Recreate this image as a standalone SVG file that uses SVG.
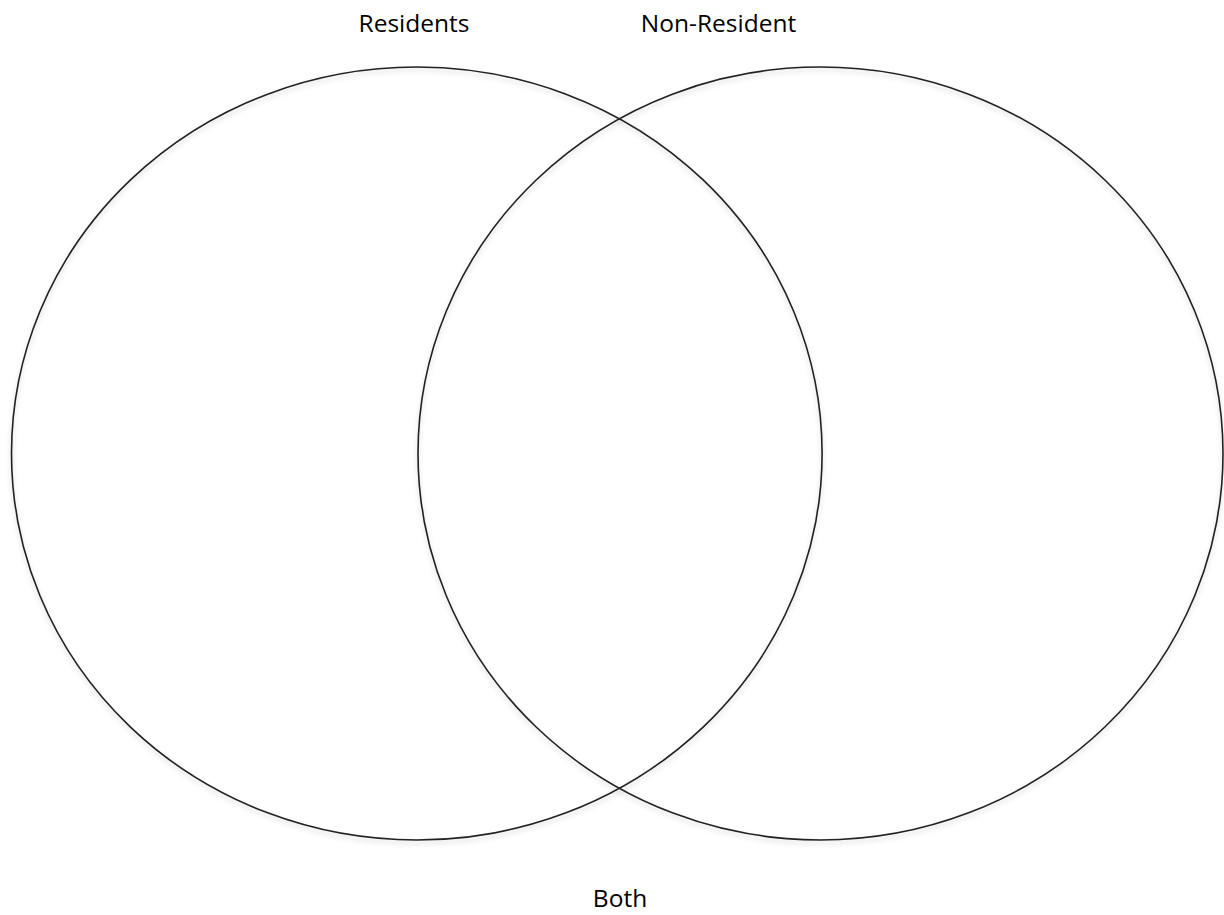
<svg xmlns="http://www.w3.org/2000/svg" width="1224" height="915" viewBox="0 0 1224 915">
<defs>
<filter id="sh" x="-5%" y="-5%" width="110%" height="110%">
<feDropShadow dx="0" dy="3" stdDeviation="2.5" flood-color="#000" flood-opacity="0.18"/>
</filter>
<style>
.c{fill:none;stroke:#222;stroke-width:1.6;filter:url(#sh)}
.t{font-family:"Open Sans","Liberation Sans",sans-serif;font-size:24.5px;fill:#000;text-anchor:middle}
</style>
</defs>
<rect width="1224" height="915" fill="#fff"/>
<g id="residents">
<ellipse class="c" cx="416.8" cy="453.5" rx="405.3" ry="386.5"/>
<text class="t" x="414" y="32">Residents</text>
</g>
<g id="non-resident">
<ellipse class="c" cx="820.5" cy="453.5" rx="402.5" ry="386.5"/>
<text class="t" x="718.5" y="32">Non-Resident</text>
</g>
<g id="both">
<text class="t" x="620" y="907">Both</text>
</g>
<g id="connectors"/>
</svg>
